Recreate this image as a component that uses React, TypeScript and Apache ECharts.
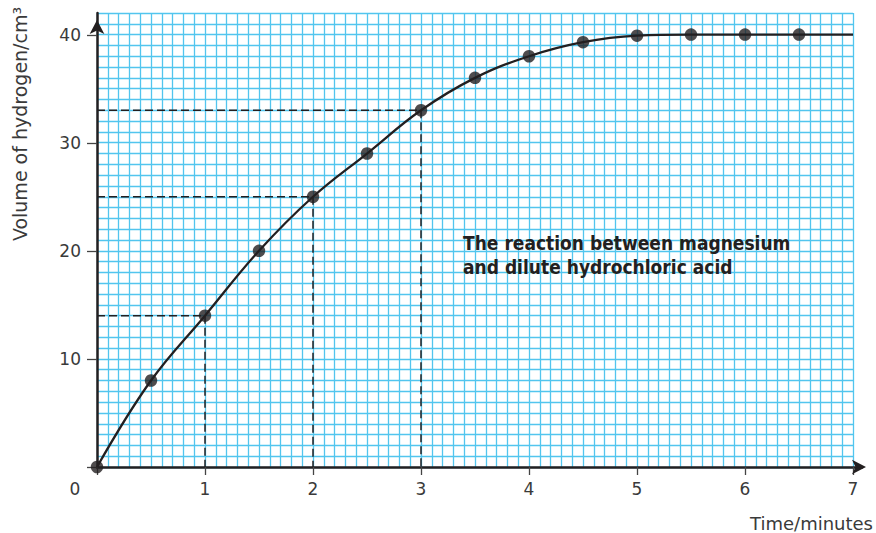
import React, { useEffect, useRef } from "react";
import * as echarts from "echarts";

// ---- data ----
const timeMinutes = [0, 0.5, 1, 1.5, 2, 2.5, 3, 3.5, 4, 4.5, 5, 5.5, 6, 6.5];
const volumeCm3 = [0, 8, 14, 20, 25, 29, 33, 36, 38, 39.3, 39.9, 40, 40, 40];
const curveEnd = [7, 40];
const readTimes = [1, 2, 3];
const readVolumes = [14, 25, 33];
const xTickLabels = [0, 1, 2, 3, 4, 5, 6, 7];
const yTickLabels = [10, 20, 30, 40];
const annotation = ["The reaction between magnesium", "and dilute hydrochloric acid"];
const xTitle = "Time/minutes";
const yTitle = "Volume of hydrogen/cm³";

const INK = "#231f20";
const TXT = "#3a3a3a";
const GRIDBLUE = "#52c5ee";
const FONT = "'DejaVu Sans', 'Open Sans', sans-serif";

export default function App() {
  const ref = useRef<HTMLDivElement>(null);
  useEffect(() => {
    if (!ref.current) return;
    const chart = echarts.init(ref.current, undefined, { renderer: "svg" });
    const points = timeMinutes.map((t, i) => [t, volumeCm3[i]]);
    const curve = [...points, curveEnd];
    const dashed = readTimes.map((t, i) => ({
      type: "line",
      xAxisIndex: 0,
      yAxisIndex: 0,
      data: [
        [0, readVolumes[i]],
        [t, readVolumes[i]],
        [t, 0],
      ],
      symbol: "none",
      lineStyle: { color: INK, width: 1.5, type: [8, 4] },
      z: 3,
      silent: true,
    }));
    const xMax = xTickLabels[xTickLabels.length - 1];
    const yMax = 42;
    chart.setOption({
      animation: false,
      backgroundColor: "#ffffff",
      grid: [
        { left: 97, right: 23, top: 13, bottom: 66 },
        { left: 97, right: 23, top: 35, bottom: 66 },
        { left: 97, right: 14, top: 13, bottom: 66 },
      ],
      xAxis: [
        {
          gridIndex: 0,
          type: "value",
          min: 0,
          max: xMax,
          interval: 0.1,
          axisLine: { show: false },
          axisTick: { show: false },
          axisLabel: { show: false },
          splitLine: { show: true, lineStyle: { color: GRIDBLUE, width: 1.3 } },
        },
        {
          gridIndex: 1,
          type: "value",
          min: 0,
          max: xMax,
          interval: 1,
          axisLine: { show: false },
          axisTick: { show: true, length: 8, inside: false, lineStyle: { color: "#444", width: 1.3 } },
          axisLabel: {
            margin: 13,
            fontSize: 17,
            color: TXT,
            fontFamily: FONT,
            formatter: (v: number) => (v === 0 ? "{z|0}" : String(v)),
            rich: { z: { padding: [0, 44, 0, 0], fontSize: 17, color: TXT, fontFamily: FONT } },
          },
          splitLine: { show: false },
        },
        {
          gridIndex: 2,
          type: "value",
          min: 0,
          max: 1,
          axisLine: {
            show: true,
            lineStyle: { color: INK, width: 2.5 },
            symbol: ["none", "arrow"],
            symbolSize: [11, 14],
            symbolOffset: [0, 4],
          },
          axisTick: { show: false },
          axisLabel: { show: false },
          splitLine: { show: false },
        },
      ],
      yAxis: [
        {
          gridIndex: 0,
          type: "value",
          min: 0,
          max: yMax,
          interval: 1,
          axisLine: {
            show: true,
            lineStyle: { color: INK, width: 2.5 },
            symbol: ["none", "arrow"],
            symbolSize: [11, 14],
            symbolOffset: [0, -7],
          },
          axisTick: { show: false },
          axisLabel: { show: false },
          splitLine: { show: true, lineStyle: { color: GRIDBLUE, width: 1.3 } },
        },
        {
          gridIndex: 1,
          type: "value",
          min: 0,
          max: yTickLabels[yTickLabels.length - 1],
          interval: 10,
          axisLine: { show: false },
          axisTick: { show: true, length: 10, lineStyle: { color: "#444", width: 1.3 } },
          axisLabel: {
            margin: 16,
            fontSize: 17,
            color: TXT,
            fontFamily: FONT,
            formatter: (v: number) => (yTickLabels.includes(v) ? String(v) : ""),
          },
          splitLine: { show: false },
        },
        { gridIndex: 2, type: "value", show: false, min: 0, max: 1 },
      ],
      series: [
        ...dashed,
        {
          type: "line",
          xAxisIndex: 0,
          yAxisIndex: 0,
          data: curve,
          smooth: 0.4,
          symbol: "none",
          lineStyle: { color: INK, width: 2.3 },
          z: 4,
          silent: true,
        },
        {
          type: "scatter",
          xAxisIndex: 0,
          yAxisIndex: 0,
          data: points,
          symbol: "circle",
          symbolSize: 12.5,
          itemStyle: { color: INK },
          z: 5,
          silent: true,
        },
      ],
      graphic: [
        {
          type: "text",
          left: 463,
          top: 231,
          style: {
            text: annotation.join("\n"),
            font: "bold 19px 'DejaVu Sans Condensed', 'Roboto', sans-serif",
            fill: INK,
            lineHeight: 24,
          },
          z: 10,
        },
        {
          type: "text",
          x: 20,
          y: 124,
          rotation: Math.PI / 2,
          style: {
            text: yTitle,
            fontSize: 19,
            fontFamily: FONT,
            fill: TXT,
            align: "center",
            verticalAlign: "middle",
          },
        },
        {
          type: "text",
          x: 873,
          y: 523,
          style: {
            text: xTitle,
            fontSize: 18,
            fontFamily: FONT,
            fill: TXT,
            align: "right",
            verticalAlign: "middle",
          },
        },
      ],
    });
    return () => chart.dispose();
  }, []);
  return <div ref={ref} style={{ width: 876, height: 533, position: "absolute", left: 0, top: 0 }} />;
}
